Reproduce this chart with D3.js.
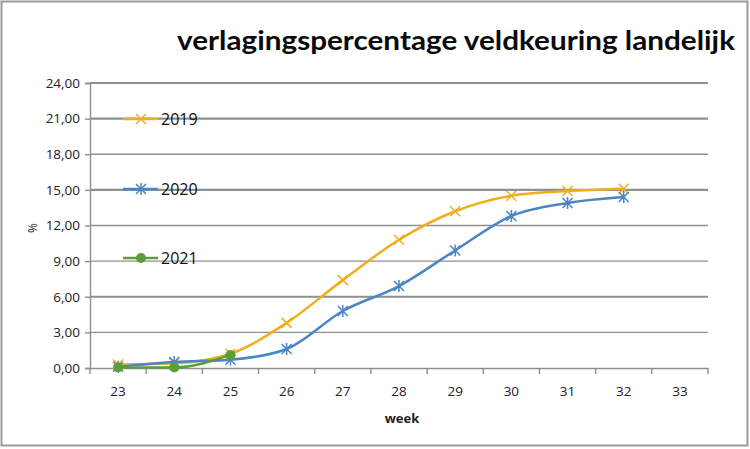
<!DOCTYPE html>
<html><head><meta charset="utf-8">
<script src="https://cdn.jsdelivr.net/npm/d3@7"></script>
<style>body{margin:0;background:#fff}svg{display:block}</style>
</head><body>
<svg id="c" width="750" height="449"></svg>
<script>
const weeks = ["23","24","25","26","27","28","29","30","31","32","33"];
const v2019 = [0.3, 0.4, 1.2, 3.8, 7.4, 10.8, 13.2, 14.5, 14.9, 15.1];
const v2020 = [0.1, 0.5, 0.7, 1.6, 4.8, 6.9, 9.9, 12.8, 13.9, 14.4];
const v2021 = [0.05, 0.05, 1.1];
const yTicks = [0, 3, 6, 9, 12, 15, 18, 21, 24];
const seriesNames = ["2019", "2020", "2021"];
const colors = ["#F0AE1E", "#4A86C6", "#5C9D3A"];
const title = "verlagingspercentage veldkeuring landelijk";

const svg = d3.select("#c");
const L = 90, R = 708, T = 83, B = 368;
const x = d3.scaleBand().domain(weeks).range([L, R]);
const y = d3.scaleLinear().domain([0, 24]).range([B, T]);

// outer border
svg.append("rect").attr("x", 1.5).attr("y", 1.5).attr("width", 746).attr("height", 444)
  .attr("fill", "#fff").attr("stroke", "#9a9a9a").attr("stroke-width", 2);

// title
svg.append("text").attr("x", 177).attr("y", 50).attr("font-family", "Lato, 'Open Sans', sans-serif")
  .attr("font-weight", "bold").attr("font-size", 27).attr("fill", "#0a0a0a")
  .attr("textLength", 558).attr("lengthAdjust", "spacingAndGlyphs").text(title);

// gridlines
svg.append("g").selectAll("line").data(yTicks.filter(d => d > 0)).join("line")
  .attr("x1", L).attr("x2", R).attr("y1", d => y(d)).attr("y2", d => y(d))
  .attr("stroke", "#8f8f8f").attr("stroke-width", d => (d === 24 || d === 21 || d === 15 || d === 6) ? 2.2 : 1.4);

// y axis
const yAxis = d3.axisLeft(y).tickValues(yTicks).tickSize(5).tickPadding(5)
  .tickFormat(d => d3.format(".2f")(d).replace(".", ","));
const gy = svg.append("g").attr("transform", `translate(${L},0)`).call(yAxis);
gy.select(".domain").attr("stroke", "#8f8f8f").attr("stroke-width", 1.4);
gy.selectAll(".tick line").attr("stroke", "#8f8f8f").attr("stroke-width", 1.4);
gy.selectAll(".tick text").attr("font-family", "'Open Sans', sans-serif").attr("font-size", 13.5).attr("fill", "#222");

// x axis
const xAxis = d3.axisBottom(x).tickSize(0).tickPadding(18);
const gx = svg.append("g").attr("transform", `translate(0,${B})`).call(xAxis);
gx.select(".domain").attr("stroke", "#8f8f8f").attr("stroke-width", 1.4);
gx.selectAll(".tick text").attr("font-family", "'Open Sans', sans-serif").attr("font-size", 13.5).attr("fill", "#222");
// boundary ticks
const bounds = weeks.map(w => x(w)).concat([R]);
svg.append("g").selectAll("line").data(bounds).join("line")
  .attr("x1", d => d).attr("x2", d => d).attr("y1", B).attr("y2", B + 6)
  .attr("stroke", "#8f8f8f").attr("stroke-width", 1.4);

// axis titles
svg.append("text").attr("x", 402).attr("y", 423).attr("text-anchor", "middle")
  .attr("font-family", "'Open Sans', sans-serif").attr("font-weight", "bold").attr("font-size", 13)
  .attr("fill", "#222").text("week");
svg.append("text").attr("transform", "translate(37,228) rotate(-90)").attr("text-anchor", "middle")
  .attr("font-family", "'Open Sans', sans-serif").attr("font-size", 12).attr("fill", "#222").text("%");

// markers
function marker(g, type, color) {
  if (type === 0) {
    g.append("path").attr("d", "M-5,-5L5,5M-5,5L5,-5").attr("stroke", color).attr("stroke-width", 1.5).attr("fill", "none");
  } else if (type === 1) {
    g.append("path").attr("d", "M-5,-5L5,5M-5,5L5,-5M0,-6L0,6").attr("stroke", color).attr("stroke-width", 1.5).attr("fill", "none");
  } else {
    g.append("circle").attr("r", 5).attr("fill", color);
  }
}

const allSeries = [v2019, v2020, v2021];
const line = d3.line().x((d, i) => x(weeks[i]) + x.bandwidth() / 2).y(d => y(d))
  .curve(d3.curveMonotoneX);
allSeries.forEach((vals, s) => {
  svg.append("path").datum(vals).attr("d", line).attr("fill", "none")
    .attr("stroke", colors[s]).attr("stroke-width", 2.5);
  vals.forEach((v, i) => {
    const g = svg.append("g").attr("transform", `translate(${x(weeks[i]) + x.bandwidth() / 2},${y(v)})`);
    marker(g, s, colors[s]);
  });
});

// legend
const legY = [119, 189, 258];
seriesNames.forEach((n, s) => {
  svg.append("line").attr("x1", 123).attr("x2", 158).attr("y1", legY[s]).attr("y2", legY[s])
    .attr("stroke", colors[s]).attr("stroke-width", 2.5);
  const g = svg.append("g").attr("transform", `translate(141,${legY[s]})`);
  marker(g, s, colors[s]);
  svg.append("text").attr("x", 161).attr("y", legY[s] + 6).attr("font-family", "'Open Sans', sans-serif")
    .attr("font-size", 16).attr("fill", "#111").text(n);
});
</script>
</body></html>
